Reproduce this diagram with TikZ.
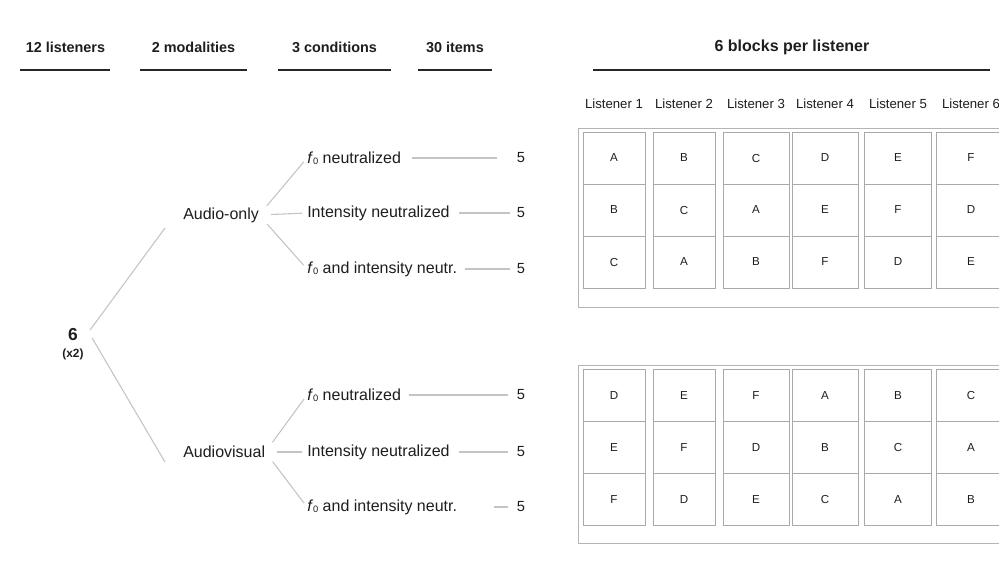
\documentclass[tikz,border=0pt]{standalone}
\usepackage{fontspec}
\setmainfont{Liberation Sans}
\definecolor{txt}{HTML}{1E1E1E}
\definecolor{linegray}{HTML}{C4C4C4}
\definecolor{cellgray}{HTML}{A9A9A9}
\definecolor{framegray}{HTML}{B4B4B4}
\newcommand{\fz}{\textit{f}{\fontsize{7}{8}\selectfont\raisebox{-0.25ex}{0}}}
\begin{document}
\begin{tikzpicture}[x=0.75pt,y=-0.75pt,
  hdr/.style={font=\fontsize{10.8}{12}\selectfont\bfseries, text=txt, inner sep=0pt},
  hrule/.style={line width=1.3pt, draw=black!85},
  body/.style={font=\fontsize{12}{14}\selectfont, text=txt, inner sep=0pt},
  num/.style={font=\fontsize{11}{13}\selectfont, text=txt, inner sep=0pt},
  branch/.style={draw=linegray, line width=0.8pt},
  cell/.style={draw=cellgray, line width=0.6pt, minimum height=39pt, inner sep=0pt, font=\fontsize{8.7}{10}\selectfont, text=txt},
  lis/.style={font=\fontsize{9.9}{11}\selectfont, text=txt, inner sep=0pt},
  frame/.style={draw=framegray, line width=0.7pt}]
\fill[white] (0,0) rectangle (999,576);
\clip (0,0) rectangle (999,576);
% headers
\node[hdr] (h1) at (65.5,47) {12 listeners};
\node[hdr] (h2) at (193.5,47) {2 modalities};
\node[hdr] (h3) at (334.5,47) {3 conditions};
\node[hdr] (h4) at (455,47) {30 items};
\node[hdr, font=\fontsize{12}{14}\selectfont\bfseries] (h5) at (792,47) {6 blocks per listener};
\draw[hrule] (20,70) -- (110,70);
\draw[hrule] (140,70) -- (247,70);
\draw[hrule] (278,70) -- (391,70);
\draw[hrule] (418,70) -- (492,70);
\draw[hrule] (593,70) -- (990,70);
% tree
\node[font=\fontsize{13}{14}\selectfont\bfseries, text=txt, inner sep=0pt] (six) at (73,335) {6};
\node[font=\fontsize{8.9}{10}\selectfont\bfseries, text=txt, inner sep=0pt] (x2) at (73,354) {(x2)};
\node[body, anchor=west] (ao) at (183,215) {Audio-only};
\node[body, anchor=west] (av) at (183,452) {Audiovisual};
\node[body, anchor=west] (c1) at (307,158) {\fz{} neutralized};
\node[body, anchor=west] (c2) at (307,213) {Intensity neutralized};
\node[body, anchor=west] (c3) at (307,269) {\fz{} and intensity neutr.};
\node[body, anchor=west] (c4) at (307,395) {\fz{} neutralized};
\node[body, anchor=west] (c5) at (307,452) {Intensity neutralized};
\node[body, anchor=west] (c6) at (307,507) {\fz{} and intensity neutr.};
\foreach \k/\y in {1/158,2/213,3/269,4/395,5/452,6/507}
  \node[num] (n\k) at (521,\y) {5};
\draw[branch] ([xshift=9pt,yshift=3.75pt]six.east) -- ([xshift=-13.5pt,yshift=-9.75pt]ao.west);
\draw[branch] ([xshift=10.5pt,yshift=-2.25pt]six.east) -- ([xshift=-13.5pt,yshift=-7.5pt]av.west);
\foreach \k in {1,2,3}
  \draw[branch, shorten <=9pt, shorten >=3.75pt] (ao.east) -- (c\k.west);
\foreach \k in {4,5,6}
  \draw[branch, shorten <=9pt, shorten >=3.75pt] (av.east) -- (c\k.west);
\draw[branch, shorten <=8pt, shorten >=15pt] (c1.east) -- (n1.west);
\draw[branch, shorten <=6.75pt, shorten >=5.25pt] (c2.east) -- (n2.west);
\draw[branch, shorten <=6pt, shorten >=5.25pt] (c3.east) -- (n3.west);
\draw[branch, shorten <=6pt, shorten >=6.75pt] (c4.east) -- (n4.west);
\draw[branch, shorten <=6.75pt, shorten >=6.75pt] (c5.east) -- (n5.west);
\draw[branch, shorten <=27.75pt, shorten >=6.75pt] (c6.east) -- (n6.west);
% frames
\draw[frame] (578,128) rectangle (1010,307);
\draw[frame] (578,365) rectangle (1010,543);
% listener labels and cells
\foreach \c/\w/\p/\q/\s/\P/\Q/\S [count=\i] in
  {614/62/A/B/C/D/E/F, 684/62/B/C/A/E/F/D, 756/66/C/A/B/F/D/E,
   825/66/D/E/F/A/B/C, 898/67/E/F/D/B/C/A, 971/70/F/D/E/C/A/B}{
  \node[lis] (L\i) at (\c,104) {Listener \i};
  \node[cell, minimum width=\w*0.75pt] (ua\i) at (\c,158) {\p};
  \node[cell, minimum width=\w*0.75pt] (ub\i) at (\c,210) {\q};
  \node[cell, minimum width=\w*0.75pt] (uc\i) at (\c,262) {\s};
  \node[cell, minimum width=\w*0.75pt] (la\i) at (\c,395) {\P};
  \node[cell, minimum width=\w*0.75pt] (lb\i) at (\c,447) {\Q};
  \node[cell, minimum width=\w*0.75pt] (lc\i) at (\c,499) {\S};
}
\end{tikzpicture}
\end{document}
